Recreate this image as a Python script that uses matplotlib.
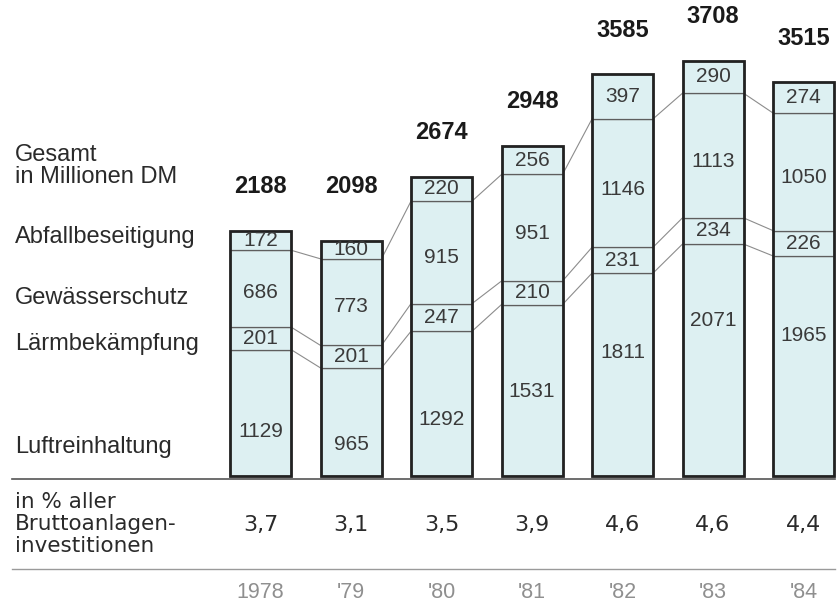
import matplotlib.pyplot as plt
import numpy as np

# data
years = ["1978", "'79", "'80", "'81", "'82", "'83", "'84"]
luft = [1129, 965, 1292, 1531, 1811, 2071, 1965]
laerm = [201, 201, 247, 210, 231, 234, 226]
gewaesser = [686, 773, 915, 951, 1146, 1113, 1050]
abfall = [172, 160, 220, 256, 397, 290, 274]
totals = [2188, 2098, 2674, 2948, 3585, 3708, 3515]
anteil = ["3,7", "3,1", "3,5", "3,9", "4,6", "4,6", "4,4"]

# where the Luftreinhaltung number sits inside its segment (fraction of height)
luft_label_pos = [0.35, 0.29, 0.39, 0.49, 0.61, 0.67, 0.64]

W, H = 839, 603
fill = "#ddf0f2"
edge = "#222222"
inner = "#5e5e5e"
txt = "#3a3a3a"
plt.rcParams["font.family"] = ["Liberation Sans", "DejaVu Sans"]

fig = plt.figure(figsize=(W / 100, H / 100), dpi=100)
ax = fig.add_axes([0, 0, 1, 1])
ax.set_axis_off()

# pixel -> data mapping: bar centres 90.5 px apart, baseline at 476 px
step, x0_px, base_px, scale = 90.5, 260.5, 476, 0.112
ax.set_xlim(-x0_px / step, (W - x0_px) / step)
ax.set_ylim(-(H - base_px) / scale, base_px / scale)

x = np.arange(len(years))
bw = 61 / step
segments = [luft, laerm, gewaesser, abfall]

bottom = np.zeros(len(years))
bounds = []
for seg in segments:
    ax.bar(x, seg, bw, bottom=bottom, color=fill, edgecolor=inner,
           linewidth=0.9, zorder=2)
    bottom = bottom + np.array(seg)
    bounds.append(bottom.copy())

# outer frame of each bar
ax.bar(x, bounds[-1], bw, fill=False, edgecolor=edge, linewidth=2.0, zorder=3)

# connector lines between bars at the first three boundaries
for b in bounds[:3]:
    for i in range(len(years) - 1):
        ax.plot([x[i] + bw / 2, x[i + 1] - bw / 2], [b[i], b[i + 1]],
                color="#8c8c8c", lw=0.8, zorder=1)

# segment values
for i in range(len(years)):
    ax.text(x[i], luft[i] * luft_label_pos[i], str(luft[i]), ha="center",
            va="center", fontsize=15, color=txt, zorder=4)
    lo = luft[i]
    ax.text(x[i], lo + laerm[i] / 2, str(laerm[i]), ha="center",
            va="center", fontsize=15, color=txt, zorder=4)
    lo += laerm[i]
    ax.text(x[i], lo + gewaesser[i] * 0.45, str(gewaesser[i]), ha="center",
            va="center", fontsize=15, color=txt, zorder=4)
    lo += gewaesser[i]
    ax.text(x[i], lo + abfall[i] / 2, str(abfall[i]), ha="center",
            va="center", fontsize=15, color=txt, zorder=4)

# totals above bars, never lower than the "Gesamt" row
pad = 44 / scale
for i, t in enumerate(totals):
    ax.text(x[i], max(t, totals[0]) + pad, str(t), ha="center", va="center",
            fontsize=17, fontweight="bold", color="#1a1a1a")

# left hand labels
def fy(py):
    return 1 - py / H

lx = 15 / W
fig.text(lx, fy(166), "Gesamt\nin Millionen DM", ha="left", va="center",
         fontsize=17, color="#2a2a2a", linespacing=0.95)
for label, py in [("Abfallbeseitigung", 237), ("Gewässerschutz", 298),
                  ("Lärmbekämpfung", 344), ("Luftreinhaltung", 447)]:
    fig.text(lx, fy(py), label, ha="left", va="center", fontsize=17,
             color="#2a2a2a")

# rules
ax.plot([12 / W, 835 / W], [fy(479), fy(479)], transform=ax.transAxes,
        color="#555555", lw=1.2)
ax.plot([12 / W, 835 / W], [fy(569), fy(569)], transform=ax.transAxes,
        color="#9a9a9a", lw=1.0)

# percentage row
fig.text(lx, fy(524), "in % aller\nBruttoanlagen-\ninvestitionen", ha="left",
         va="center", fontsize=15.5, color="#2a2a2a", family="DejaVu Sans",
         linespacing=1.1)
tr = ax.get_xaxis_transform()
for i, a in enumerate(anteil):
    ax.text(x[i], fy(525), a, transform=tr, ha="center", va="center",
            fontsize=16, color="#2a2a2a", family="DejaVu Sans")

# years
for i, yr in enumerate(years):
    ax.text(x[i], fy(592), yr, transform=tr, ha="center", va="center",
            fontsize=15.5, color="#8f8f8f")

fig.savefig("out.png", dpi=100)
